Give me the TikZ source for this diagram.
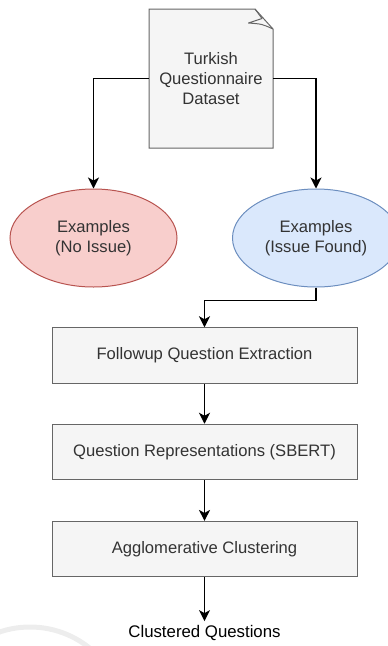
\documentclass[tikz,border=0pt]{standalone}
\usepackage{fontspec}
\setmainfont{Liberation Sans}
\usetikzlibrary{arrows.meta,shapes.geometric}
\definecolor{boxfill}{HTML}{F5F5F5}
\definecolor{boxline}{HTML}{666666}
\definecolor{txt}{HTML}{333333}
\definecolor{redfill}{HTML}{F8CECC}
\definecolor{redline}{HTML}{B85450}
\definecolor{bluefill}{HTML}{DAE8FC}
\definecolor{blueline}{HTML}{6C8EBF}
\definecolor{wm}{HTML}{EDEDED}
\tikzset{
  stepbox/.style={draw=boxline, fill=boxfill, line width=1pt, minimum width=305pt, minimum height=55.5pt, inner sep=0pt, text=txt, font=\fontsize{16.6}{20}\selectfont},
  oval/.style={ellipse, line width=1pt, minimum width=167pt, minimum height=98pt, inner sep=0pt, align=center, text=txt, font=\fontsize{16.6}{20}\selectfont},
  arr/.style={line width=1.3pt, -{Stealth[length=11pt,width=11pt,inset=3pt]}},
}
\begin{document}
\begin{tikzpicture}[x=1pt,y=-1pt]
\useasboundingbox (0,0) rectangle (388,646);
\clip (0,0) rectangle (388,646);
% watermark arc
\draw[wm, line width=5pt] (30,722) circle (95pt);
% note shape
\draw[boxline, fill=boxfill, line width=1pt] (149,148) -- (149,9) -- (255,9) -- (273,29) -- (273,148) -- cycle;
\draw[boxline, line width=1pt, line join=round] (255,9) .. controls (259,13) .. (262,18.5) -- (248.5,23) .. controls (262,24) .. (273,29);
\node[inner sep=0pt, minimum width=124pt, minimum height=139pt, align=center, text=txt, font=\fontsize{16.6}{20}\selectfont] (ds) at (211,78.5) {Turkish\\Questionnaire\\Dataset};
% ellipses
\node[oval, draw=redline, fill=redfill] (ex1) at (93.5,238) {Examples\\(No Issue)};
\node[oval, draw=blueline, fill=bluefill] (ex2) at (316,238) {Examples\\(Issue Found)};
% boxes
\node[stepbox] (b1) at (204.5,355.5) {Followup Question Extraction};
\node[stepbox] (b2) at (204.5,452) {Question Representations (SBERT)};
\node[stepbox] (b3) at (204.5,549.2) {Agglomerative Clustering};
\node[inner sep=4pt, font=\fontsize{16.8}{20}\selectfont] (out) at (204.5,633) {Clustered Questions};
% connectors
\draw[arr] (ds.west) -| (ex1.north);
\draw[arr] (ds.east) -| (ex2.north);
\draw[arr] (ex2.south) -- ++(0,13) -| (b1.north);
\draw[arr] (b1.south) -- (b2.north);
\draw[arr] (b2.south) -- (b3.north);
\draw[arr] (b3.south) -- (out.north);
\end{tikzpicture}
\end{document}
